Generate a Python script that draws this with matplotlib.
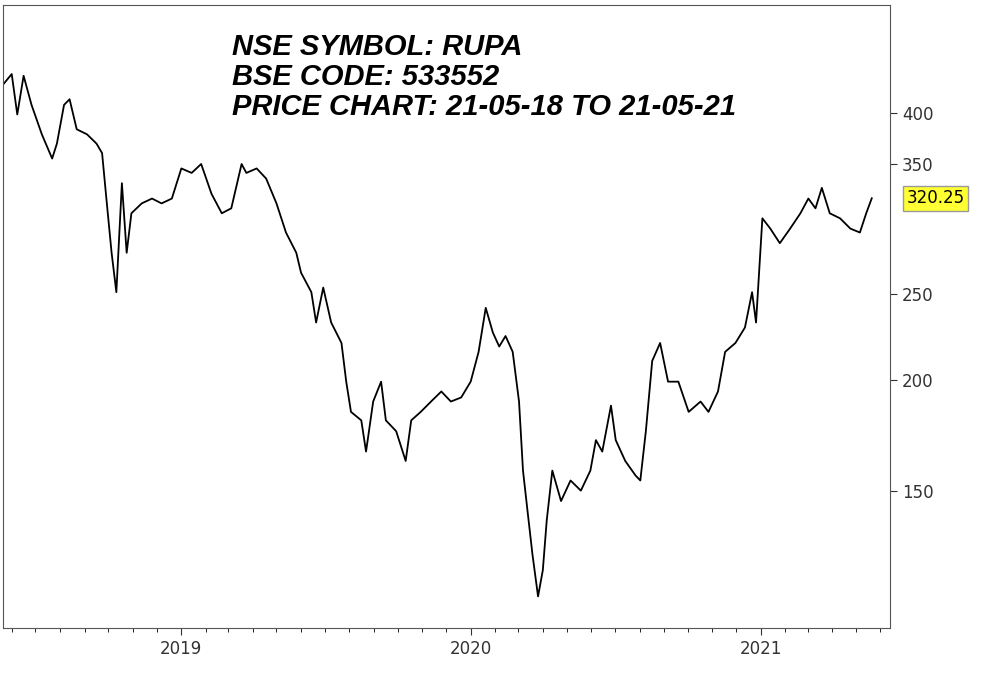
import matplotlib
matplotlib.use("Agg")
import matplotlib.pyplot as plt
import matplotlib.dates as mdates
import matplotlib.ticker as mticker
import pandas as pd

start = "2018-05-21"
day_offsets = [0,11,18,26,36,49,62,68,77,84,93,106,118,125,131,137,143,150,156,162,175,188,200,213,225,238,250,263,276,288,301,307,320,332,345,357,370,376,389,395,404,414,427,433,439,452,458,467,477,483,496,508,515,527,540,553,565,578,590,600,609,618,626,634,643,651,656,663,668,675,681,686,693,704,716,729,741,748,756,767,773,785,798,804,811,819,829,839,852,865,880,890,902,911,924,936,945,950,958,968,980,993,1006,1016,1025,1033,1043,1056,1069,1081,1089,1096]
prices = [430,442,398,440,408,378,355,369,408,414,383,378,369,360,316,278,251,333,278,308,316,320,316,320,346,342,350,324,308,312,350,342,346,337,316,293,278,264,251,232,254,232,220,199,184,180,166,189,199,180,175,162,180,184,189,194,189,191,199,215,241,226,218,224,215,189,158,139,127,114,122,139,158,146,154,150,158,171,166,187,171,162,156,154,175,210,220,199,199,184,189,184,194,215,220,229,251,232,304,296,285,296,308,320,312,329,308,304,296,293,308,320.25]
y_ticks = [150, 200, 250, 350, 400]
title_lines = ["NSE SYMBOL: RUPA", "BSE CODE: 533552", "PRICE CHART: 21-05-18 TO 21-05-21"]

dates = pd.to_datetime(start) + pd.to_timedelta(day_offsets, unit="D")

fig = plt.figure(figsize=(10, 6.82), dpi=100)
ax = fig.add_axes([0.003, 0.079, 0.887, 0.914])
ax.plot(dates, prices, color="black", lw=1.3)
ax.set_yscale("log")
ax.set_ylim(105, 529)
ax.set_xlim(pd.to_datetime(start), pd.to_datetime(start) + pd.Timedelta(days=1119))
ax.yaxis.tick_right()
ax.yaxis.set_major_locator(mticker.FixedLocator(y_ticks))
ax.yaxis.set_major_formatter(mticker.FixedFormatter([str(t) for t in y_ticks]))
ax.yaxis.set_minor_locator(mticker.NullLocator())
ax.xaxis.set_major_locator(mdates.YearLocator())
ax.xaxis.set_major_formatter(mdates.DateFormatter("%Y"))
ax.xaxis.set_minor_locator(mdates.MonthLocator())
ax.tick_params(axis="both", labelsize=12, colors="#333333", length=5)
ax.tick_params(axis="x", which="minor", length=3)
for s in ax.spines.values():
    s.set_color("#555555")
ax.text(0.258, 0.955, "\n".join(title_lines), transform=ax.transAxes, fontsize=21,
        fontfamily="Liberation Sans", fontweight="bold", fontstyle="italic",
        va="top", ha="left", linespacing=1.1)
ax.annotate(f"{prices[-1]:.2f}", xy=(1.0, prices[-1]), xycoords=("axes fraction", "data"),
            xytext=(12, 0), textcoords="offset points", va="center", ha="left", fontsize=12,
            bbox=dict(boxstyle="square,pad=0.2", fc="#ffff33", ec="#999999"))
fig.savefig("out.png", dpi=100)
